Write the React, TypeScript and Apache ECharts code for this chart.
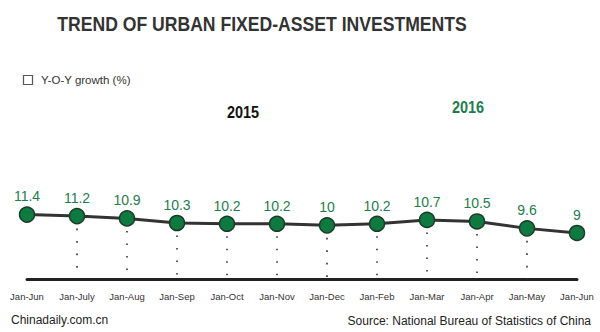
import React, { useEffect, useRef } from "react";
import * as echarts from "echarts";

const categories = ["Jan-Jun", "Jan-July", "Jan-Aug", "Jan-Sep", "Jan-Oct", "Jan-Nov", "Jan-Dec", "Jan-Feb", "Jan-Mar", "Jan-Apr", "Jan-May", "Jan-Jun"];
const growth = [11.4, 11.2, 10.9, 10.3, 10.2, 10.2, 10, 10.2, 10.7, 10.5, 9.6, 9];
const dropIndexes = [1, 2, 3, 4, 5, 6, 7, 8, 9, 10];
const titleText = "TREND OF URBAN FIXED-ASSET INVESTMENTS";
const legendText = "Y-O-Y growth (%)";
const yearLabels = ["2015", "2016"];
const footLeft = "Chinadaily.com.cn";
const footRight = "Source: National Bureau of Statistics of China";

const GREEN = "#0e7a3f";
const LABEL_GREEN = "#1d7d4c";
const FONT = "Arial, 'Liberation Sans', Helvetica, sans-serif";

export default function App() {
  const ref = useRef<HTMLDivElement>(null);
  useEffect(() => {
    if (!ref.current) return;
    const chart = echarts.init(ref.current, null, { renderer: "svg" });
    const yMin = 3;
    chart.setOption({
      animation: false,
      backgroundColor: "#ffffff",
      textStyle: { fontFamily: FONT },
      grid: { left: 27, right: 23, top: 148.6, bottom: 53, containLabel: false },
      xAxis: {
        type: "category",
        data: categories,
        boundaryGap: false,
        axisLine: { show: true, lineStyle: { color: "#222", width: 3 } },
        axisTick: { show: false },
        axisLabel: { color: "#333", fontSize: 9.5, margin: 12, interval: 0, fontFamily: FONT },
        splitLine: { show: false },
      },
      yAxis: {
        type: "value",
        min: yMin,
        max: 20,
        show: false,
      },
      graphic: [
        {
          type: "text",
          x: 262,
          y: 24,
          scaleX: 0.88,
          style: {
            text: titleText,
            fill: "#333",
            font: `bold 20px ${FONT}`,
            textAlign: "center",
            textVerticalAlign: "middle",
          },
        },
        {
          type: "rect",
          shape: { x: 23.5, y: 75.5, width: 9, height: 9 },
          style: { fill: "#fff", stroke: "#555", lineWidth: 1.2 },
        },
        {
          type: "text",
          x: 41,
          y: 80,
          style: {
            text: legendText,
            fill: "#333",
            font: `11.5px ${FONT}`,
            textAlign: "left",
            textVerticalAlign: "middle",
          },
        },
        {
          type: "text",
          x: 243,
          y: 112,
          scaleX: 0.85,
          style: {
            text: yearLabels[0],
            fill: "#111",
            font: `bold 17px ${FONT}`,
            textAlign: "center",
            textVerticalAlign: "middle",
          },
        },
        {
          type: "text",
          x: 468,
          y: 107,
          scaleX: 0.85,
          style: {
            text: yearLabels[1],
            fill: LABEL_GREEN,
            font: `bold 17px ${FONT}`,
            textAlign: "center",
            textVerticalAlign: "middle",
          },
        },
        {
          type: "text",
          x: 11,
          y: 320,
          style: {
            text: footLeft,
            fill: "#222",
            font: `12px ${FONT}`,
            textAlign: "left",
            textVerticalAlign: "middle",
          },
        },
        {
          type: "text",
          x: 591,
          y: 321,
          style: {
            text: footRight,
            fill: "#222",
            font: `12px ${FONT}`,
            textAlign: "right",
            textVerticalAlign: "middle",
          },
        },
      ],
      series: [
        {
          type: "line",
          data: growth,
          z: 3,
          symbol: "circle",
          symbolSize: 15,
          lineStyle: { color: "#333", width: 3 },
          itemStyle: { color: GREEN, borderColor: "#1c3b28", borderWidth: 1.5 },
          label: {
            show: true,
            position: "top",
            distance: 3,
            color: LABEL_GREEN,
            fontSize: 14,
            fontFamily: FONT,
          },
          markLine: {
            silent: true,
            symbol: "none",
            z: 1,
            label: { show: false },
            lineStyle: { color: "#333", type: [1.6, 10.9], width: 1.6 },
            data: dropIndexes.map((i) => [
              { coord: [i, growth[i]] },
              { coord: [i, yMin] },
            ]),
          },
        },
      ],
    });
    return () => chart.dispose();
  }, []);
  return (
    <div style={{ position: "fixed", left: 0, top: 0, width: 600, height: 332, background: "#fff" }}>
      <div ref={ref} style={{ width: 600, height: 332 }} />
    </div>
  );
}
